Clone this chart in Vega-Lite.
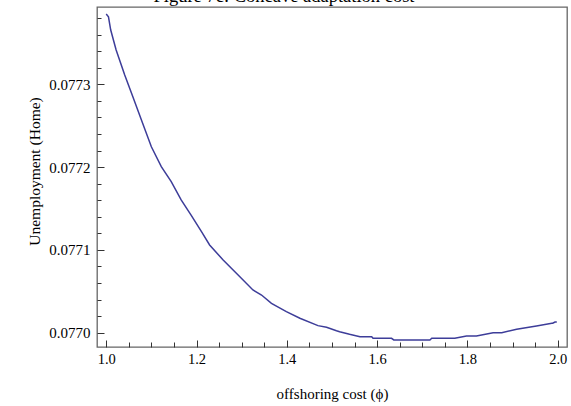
{
  "$schema": "https://vega.github.io/schema/vega-lite/v6.json",
  "width": 470,
  "height": 340,
  "autosize": {"type": "none"},
  "padding": {"left": 97, "top": 7, "right": 4, "bottom": 59},
  "title": {"text": "Figure 7c: Concave adaptation cost", "font": "Liberation Serif", "fontSize": 18.5, "fontWeight": "normal", "color": "#000", "baseline": "alphabetic", "offset": -13, "dx": -48, "anchor": "middle"},
  "config": {
    "view": {"stroke": "#666", "strokeWidth": 1.3},
    "font": "Liberation Serif",
    "axis": {"grid": false, "domain": false, "tickColor": "#333", "labelColor": "#000", "titleColor": "#000", "labelFont": "Liberation Serif", "titleFont": "Liberation Serif", "titleFontWeight": "normal"}
  },
  "data": {"values": [
    {"x": 1.000, "y": 0.0773849}, {"x": 1.005, "y": 0.0773816}, {"x": 1.010, "y": 0.0773656},
    {"x": 1.022, "y": 0.0773414}, {"x": 1.041, "y": 0.0773112}, {"x": 1.059, "y": 0.0772850},
    {"x": 1.078, "y": 0.0772569}, {"x": 1.100, "y": 0.0772246}, {"x": 1.122, "y": 0.0772005},
    {"x": 1.144, "y": 0.0771824}, {"x": 1.166, "y": 0.0771603}, {"x": 1.188, "y": 0.0771421},
    {"x": 1.211, "y": 0.0771220}, {"x": 1.229, "y": 0.0771059}, {"x": 1.259, "y": 0.0770878},
    {"x": 1.296, "y": 0.0770676}, {"x": 1.325, "y": 0.0770516}, {"x": 1.344, "y": 0.0770455},
    {"x": 1.366, "y": 0.0770355}, {"x": 1.399, "y": 0.0770254}, {"x": 1.429, "y": 0.0770174},
    {"x": 1.469, "y": 0.0770085}, {"x": 1.488, "y": 0.0770065}, {"x": 1.510, "y": 0.0770024},
    {"x": 1.517, "y": 0.0770012}, {"x": 1.539, "y": 0.0769981}, {"x": 1.562, "y": 0.0769952},
    {"x": 1.588, "y": 0.0769952}, {"x": 1.591, "y": 0.0769932}, {"x": 1.632, "y": 0.0769932},
    {"x": 1.637, "y": 0.0769912}, {"x": 1.717, "y": 0.0769912}, {"x": 1.721, "y": 0.0769932},
    {"x": 1.772, "y": 0.0769932}, {"x": 1.798, "y": 0.0769960}, {"x": 1.820, "y": 0.0769960},
    {"x": 1.857, "y": 0.0770000}, {"x": 1.876, "y": 0.0770000}, {"x": 1.909, "y": 0.0770041},
    {"x": 1.953, "y": 0.0770081}, {"x": 1.987, "y": 0.0770114}, {"x": 1.989, "y": 0.0770114},
    {"x": 1.994, "y": 0.0770129}, {"x": 1.998, "y": 0.0770129}
  ]},
  "layer": [
    {
      "mark": {"type": "line", "color": "#3d3d99", "strokeWidth": 1.5},
      "encoding": {
        "x": {"field": "x", "type": "quantitative",
          "scale": {"domain": [0.9796, 2.0206], "nice": false, "zero": false},
          "axis": {"orient": "bottom", "values": [1.0, 1.2, 1.4, 1.6, 1.8, 2.0], "format": ".1f", "tickSize": -7, "labelPadding": 12, "labelFont": "Liberation Serif", "labelFontSize": 14.5, "title": "offshoring cost (ϕ)", "titleFont": "Liberation Serif", "titleFontSize": 15, "titleBaseline": "alphabetic", "titleY": 51}},
        "y": {"field": "y", "type": "quantitative",
          "scale": {"domain": [0.0769827, 0.0773934], "nice": false, "zero": false},
          "axis": {"orient": "left", "values": [0.077, 0.0771, 0.0772, 0.0773], "format": ".4f", "tickSize": -7, "labelPadding": 14, "labelFont": "Liberation Serif", "labelFontSize": 15, "title": "Unemployment (Home)", "titleFont": "Liberation Serif", "titleFontSize": 15.5, "titleAngle": -90, "titleBaseline": "middle", "titleX": -63, "titleY": 164}}
      }
    },
    {
      "mark": {"type": "line", "opacity": 0},
      "encoding": {
        "x": {"field": "x", "type": "quantitative",
          "axis": {"orient": "bottom", "values": [1.05, 1.1, 1.15, 1.25, 1.3, 1.35, 1.45, 1.5, 1.55, 1.65, 1.7, 1.75, 1.85, 1.9, 1.95], "labels": false, "tickSize": -5, "title": null}},
        "y": {"field": "y", "type": "quantitative",
          "axis": {"orient": "left", "values": [0.07702, 0.07704, 0.07706, 0.07708, 0.07712, 0.07714, 0.07716, 0.07718, 0.07722, 0.07724, 0.07726, 0.07728, 0.07732, 0.07734, 0.07736, 0.07738], "labels": false, "tickSize": -4, "title": null}}
      }
    }
  ],
  "resolve": {"axis": {"x": "independent", "y": "independent"}}
}
